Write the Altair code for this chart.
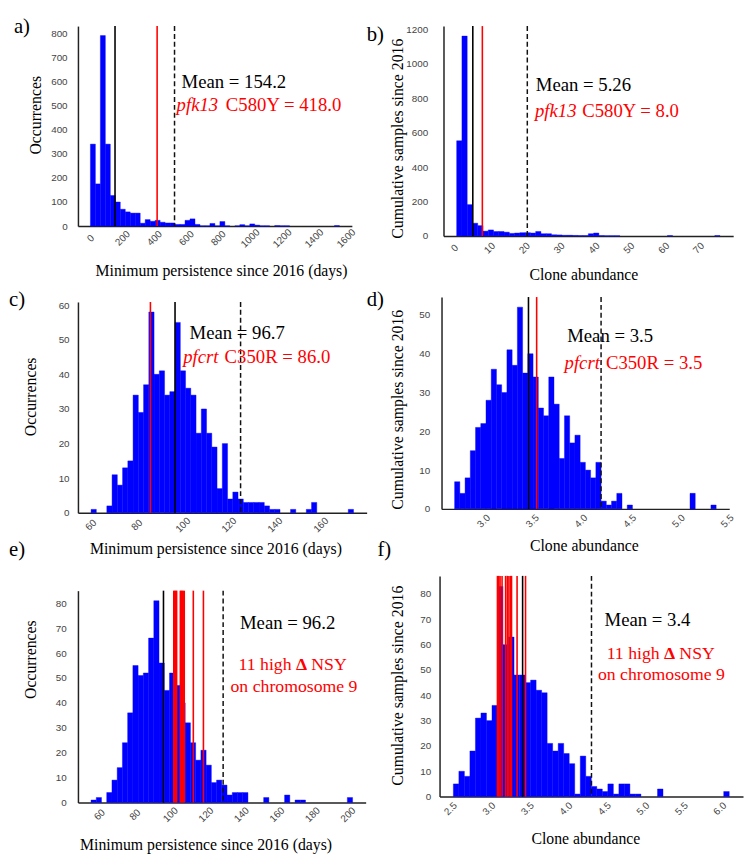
import altair as alt
import numpy as np
import pandas as pd

SERIF = "Liberation Serif"
SANS = "Liberation Sans"
BLUE = "#0000FF"
RED = "#FF0000"

# ---------------- data ----------------
# a) minimum persistence since 2016 (days), 50 bins
a_counts = [340, 175, 790, 340, 127, 100, 70, 59, 54, 54, 12, 27, 20, 24, 16, 13, 13, 7, 7, 24,
            30, 7, 1, 1, 11, 1, 19, 1, 0, 1, 6, 1, 9, 4, 1, 1, 0, 2, 1, 1,
            0, 0, 0, 0, 0, 0, 0, 0, 0, 2]
a_range = [0.0, 1560.0]
a_mean = 154.2
a_marker = [418.0]
a_cutoff = 527.0
a_xticks = [0, 200, 400, 600, 800, 1000, 1200, 1400, 1600]
a_yticks = [0, 100, 200, 300, 400, 500, 600, 700, 800]

# b) clone abundance
b_counts = [553, 1161, 182, 74, 60, 28, 35, 26, 26, 22, 15, 17, 19, 19, 17, 26, 13, 13, 7, 6,
            4, 4, 3, 2, 2, 13, 17, 2, 1, 1, 1, 0, 0, 0, 0, 0, 0, 0, 0, 0,
            2, 0, 0, 0, 0, 0, 0, 0, 0, 2]
b_range = [0.63, 76.2]
b_mean = 5.26
b_marker = [8.0]
b_cutoff = 20.9
b_xticks = [0, 10, 20, 30, 40, 50, 60, 70]
b_yticks = [0, 200, 400, 600, 800, 1000, 1200]

# c) minimum persistence, pfcrt C350R
c_counts = [1, 0, 0, 2, 11, 8, 13, 15, 34, 29, 37, 58, 40, 41, 34, 35, 55, 41, 36, 34,
            23, 30, 23, 19, 7, 20, 4, 6, 4, 3, 3, 3, 3, 2, 1, 1, 0, 0, 1, 0,
            0, 1, 3, 0, 0, 0, 0, 0, 0, 1]
c_range = [60.2, 174.3]
c_mean = 96.7
c_marker = [86.0]
c_cutoff = 125.2
c_xticks = [60, 80, 100, 120, 140, 160]
c_yticks = [0, 10, 20, 30, 40, 50, 60]

# d) clone abundance, pfcrt C350R
d_counts = [7, 4, 8, 15, 21, 22, 28, 36, 32, 30, 41, 37, 52, 35, 40, 34, 26, 24, 34, 27,
            13, 24, 17, 19, 12, 10, 8, 12, 2, 1, 2, 4, 0, 1, 0, 0, 0, 0, 0, 0,
            0, 0, 0, 0, 0, 4, 0, 0, 0, 1]
d_range = [2.705, 5.389]
d_mean = 3.463
d_marker = [3.547]
d_cutoff = 4.208
d_xticks = [3.0, 3.5, 4.0, 4.5, 5.0, 5.5]
d_yticks = [0, 10, 20, 30, 40, 50]

# e) minimum persistence, 11 high delta NSY on chromosome 9
e_counts = [1, 2, 0, 4, 9, 14, 24, 36, 55, 51, 52, 66, 81, 56, 45, 52, 47, 40, 32, 24,
            17, 21, 15, 8, 9, 7, 3, 4, 4, 4, 0, 0, 0, 2, 0, 0, 0, 3, 0, 1,
            1, 0, 0, 0, 0, 0, 0, 0, 0, 2]
e_range = [55.4, 202.7]
e_mean = 96.2
e_marker = [102.0, 102.5, 103.1, 103.6, 105.7, 106.2, 106.8, 107.3, 107.9, 113.0, 118.7]
e_cutoff = 129.8
e_xticks = [60, 80, 100, 120, 140, 160, 180, 200]
e_yticks = [0, 10, 20, 30, 40, 50, 60, 70, 80]

# f) clone abundance, 11 high delta NSY on chromosome 9
f_counts = [5, 10, 8, 18, 31, 33, 30, 36, 83, 60, 63, 48, 48, 45, 46, 42, 41, 21, 18, 21,
            17, 13, 1, 16, 8, 4, 3, 2, 5, 1, 5, 5, 1, 1, 0, 0, 0, 3, 0, 0,
            0, 0, 0, 0, 0, 0, 0, 0, 0, 2]
f_range = [2.54, 6.125]
f_mean = 3.44
f_marker = [3.113, 3.130, 3.147, 3.173, 3.219, 3.241, 3.262, 3.283, 3.296, 3.368, 3.478]
f_cutoff = 4.335
f_xticks = [2.5, 3.0, 3.5, 4.0, 4.5, 5.0, 5.5, 6.0]
f_yticks = [0, 10, 20, 30, 40, 50, 60, 70, 80]

T_PERSIST = "Minimum persistence since 2016 (days)"
T_CLONE = "Clone abundance"
T_OCC = "Occurrences"
T_CUM_A = "Cumulative samples since"
T_CUM_B = "2016"


def ptext(txt, px, py, size, align="left", baseline="top", angle=0, color="black",
          font=SERIF, style="normal", weight="normal"):
    return (alt.Chart(pd.DataFrame({"t": [txt]}))
            .mark_text(font=font, fontSize=size, align=align, baseline=baseline, angle=angle,
                       color=color, fontStyle=style, fontWeight=weight)
            .encode(x=alt.value(px), y=alt.value(py), text="t:N"))


def corner(px1, py1, px2, py2):
    # a 1px white square that fixes the panel's bounds
    return (alt.Chart(pd.DataFrame({"k": [0]})).mark_rect(color="white")
            .encode(x=alt.value(px1), x2=alt.value(px2), y=alt.value(py1), y2=alt.value(py2)))


def panel(counts, rng, mean, markers, cutoff, xticks, yticks, xfmt, width, height, ylabpad,
          notes, letters, xtitle, ytitle, frame):
    edges = np.linspace(rng[0], rng[1], len(counts) + 1)
    hist = pd.DataFrame({"lo": edges[:-1], "hi": edges[1:], "n": counts})
    hist = hist[hist["n"] > 0]
    span = rng[1] - rng[0]
    xs = alt.Scale(domain=[rng[0] - 0.05 * span, rng[1] + 0.05 * span], nice=False, zero=False)
    ys = alt.Scale(domain=[0, 1.05 * max(counts)], nice=False, zero=True)
    xax = alt.Axis(values=xticks, format=xfmt, title=None, labelAngle=315,
                   labelAlign="center", labelBaseline="middle", labelPadding=12)
    yax = alt.Axis(values=yticks, format="d", title=None, labelPadding=ylabpad)
    X = lambda f: alt.X(f, scale=xs, axis=xax)
    Y = lambda f: alt.Y(f, scale=ys, axis=yax)

    bars = alt.Chart(hist).mark_rect(color=BLUE, stroke=BLUE, strokeWidth=0.4).encode(
        x=X("lo:Q"), x2="hi:Q", y=Y("n:Q"), y2=alt.datum(0))
    layers = [bars]
    layers.append(alt.Chart(pd.DataFrame({"v": [mean]})).mark_rule(color="black", strokeWidth=1.6)
                  .encode(x=X("v:Q")))
    layers.append(alt.Chart(pd.DataFrame({"v": markers})).mark_rule(color=RED, strokeWidth=1.6)
                  .encode(x=X("v:Q")))
    layers.append(alt.Chart(pd.DataFrame({"v": [cutoff]}))
                  .mark_rule(color="#111111", strokeWidth=1.5, strokeDash=[5, 3])
                  .encode(x=X("v:Q")))
    for nt in notes:
        layers.append(
            alt.Chart(pd.DataFrame({"x": [nt["x"]], "y": [nt["y"]], "t": [nt["text"]]}))
            .mark_text(font=SERIF, fontSize=nt.get("size", 19), color=nt.get("color", "black"),
                       align=nt.get("align", "left"), baseline="alphabetic",
                       fontStyle=nt.get("style", "normal"), fontWeight=nt.get("weight", "normal"),
                       dx=nt.get("dx", 0))
            .encode(x=X("x:Q"), y=Y("y:Q"), text="t:N"))
    for txt, px, py in letters:
        layers.append(ptext(txt, px, py, 21))
    # x-axis title
    layers.append(ptext(xtitle[0], xtitle[1], xtitle[2], 16, align="center", baseline="alphabetic"))
    # y-axis title (vertical, reading upwards); the long one is set in two pieces
    if len(ytitle) == 3:
        layers.append(ptext(ytitle[0], ytitle[1], ytitle[2], 16, align="center",
                            baseline="middle", angle=270))
    else:
        t1, t2, yx, yj = ytitle
        layers.append(ptext(t1, yx, yj, 16, align="right", baseline="middle", angle=270))
        layers.append(ptext(t2, yx, yj - 36, 16, align="right", baseline="middle", angle=270))
    (fx1, fy1), (fx2, fy2) = frame
    layers.append(corner(fx1, fy1, fx1 + 1, fy1 + 1))
    layers.append(corner(fx2 - 1, fy2 - 1, fx2, fy2))
    return alt.layer(*layers).properties(width=width, height=height)


# page layout: left column x 8..398, right column x 360..750; rows stacked by the frames
pa = panel(a_counts, a_range, a_mean, a_marker, a_cutoff, a_xticks, a_yticks, "d", 278, 203, 11,
           [dict(text="Mean = 154.2", x=571, y=574),
            dict(text="pfk13", x=540, y=478, color=RED, style="italic"),
            dict(text="C580Y = 418.0", x=540, y=478, color=RED, dx=50)],
           [("a)", -65, -9.5)],
           (T_PERSIST, 145.7, 253.7), (T_OCC, -43, 90.5),
           ((-65, -12), (325, 260)))

pb = panel(b_counts, b_range, b_mean, b_marker, b_cutoff, b_xticks, b_yticks, "d", 294, 213, 16,
           [dict(text="Mean = 5.26", x=23.33, y=844),
            dict(text="pfk13", x=23.1, y=692, color=RED, style="italic"),
            dict(text="C580Y = 8.0", x=23.1, y=692, color=RED, dx=48)],
           [("b)", -78, -1.5)],
           (T_CLONE, 142.5, 257.3), (T_CUM_A, T_CUM_B, -46.5, 48.8),
           ((-84, -5), (306, 267)))

pc = panel(c_counts, c_range, c_mean, c_marker, c_cutoff, c_xticks, c_yticks, "d", 293, 214, 9,
           [dict(text="Mean = 96.7", x=103.0, y=50.2),
            dict(text="pfcrt", x=100.25, y=43.2, color=RED, style="italic"),
            dict(text="C350R = 86.0", x=100.25, y=43.2, color=RED, dx=42)],
           [("c)", -70, -12.5), ("e)", -70, 240.5)],
           (T_PERSIST, 140, 255.3), (T_OCC, -48, 96.3),
           ((-70, -13), (320, 266)))

pd_ = panel(d_counts, d_range, d_mean, d_marker, d_cutoff, d_xticks, d_yticks, ".1f", 292, 215, 12,
            [dict(text="Mean = 3.5", x=3.86, y=43.1),
             dict(text="pfcrt", x=3.833, y=36.1, color=RED, style="italic"),
             dict(text="C350R = 3.5", x=3.833, y=36.1, color=RED, dx=42)],
            [("d)", -76, -7.5), ("f)", -65, 245.5)],
            (T_CLONE, 145, 257.4), (T_CUM_A, T_CUM_B, -44.5, 48.9),
            ((-82, -8), (308, 271)))

pe = panel(e_counts, e_range, e_mean, e_marker, e_cutoff, e_xticks, e_yticks, "d", 292, 215, 12,
           [dict(text="Mean = 96.2", x=166.1, y=69.5, align="center"),
            dict(text="11 high", x=173.9, y=53.1, color=RED, size=18, align="right", dx=-10),
            dict(text="\u0394", x=173.9, y=53.1, color=RED, size=18, align="center", weight="bold"),
            dict(text="NSY", x=173.9, y=53.1, color=RED, size=18, align="left", dx=10),
            dict(text="on chromosome 9", x=169.7, y=44.3, color=RED, size=18, align="center")],
           [],
           (T_PERSIST, 130, 263.3), (T_OCC, -47.3, 70),
           ((-71, -22), (319, 267)))

pf = panel(f_counts, f_range, f_mean, f_marker, f_cutoff, f_xticks, f_yticks, ".1f", 308, 224, 9,
           [dict(text="Mean = 3.4", x=5.063, y=67.5, align="center"),
            dict(text="11 high", x=5.349, y=54.5, color=RED, size=18, align="right", dx=-10),
            dict(text="\u0394", x=5.349, y=54.5, color=RED, size=18, align="center", weight="bold"),
            dict(text="NSY", x=5.349, y=54.5, color=RED, size=18, align="left", dx=10),
            dict(text="on chromosome 9", x=5.243, y=45.9, color=RED, size=18, align="center")],
           [],
           (T_CLONE, 148.5, 272.3), (T_CUM_A, T_CUM_B, -42.5, 46),
           ((-80, -12), (310, 276)))

chart = (
    alt.concat(pa, pb, pc, pd_, pe, pf, columns=2, spacing={"row": 0, "column": -38},
               align="none", bounds="full")
    .properties(padding={"left": 0, "top": 0, "right": 0, "bottom": 0})
    .configure_view(stroke=None)
    .configure_axis(domainColor="#222222", domainWidth=1.5, ticks=False, tickSize=0, grid=False,
                    labelFont=SANS, labelFontSize=10, labelColor="#444444")
)

chart.save("out.html", embed_options={"renderer": "svg", "actions": False})
